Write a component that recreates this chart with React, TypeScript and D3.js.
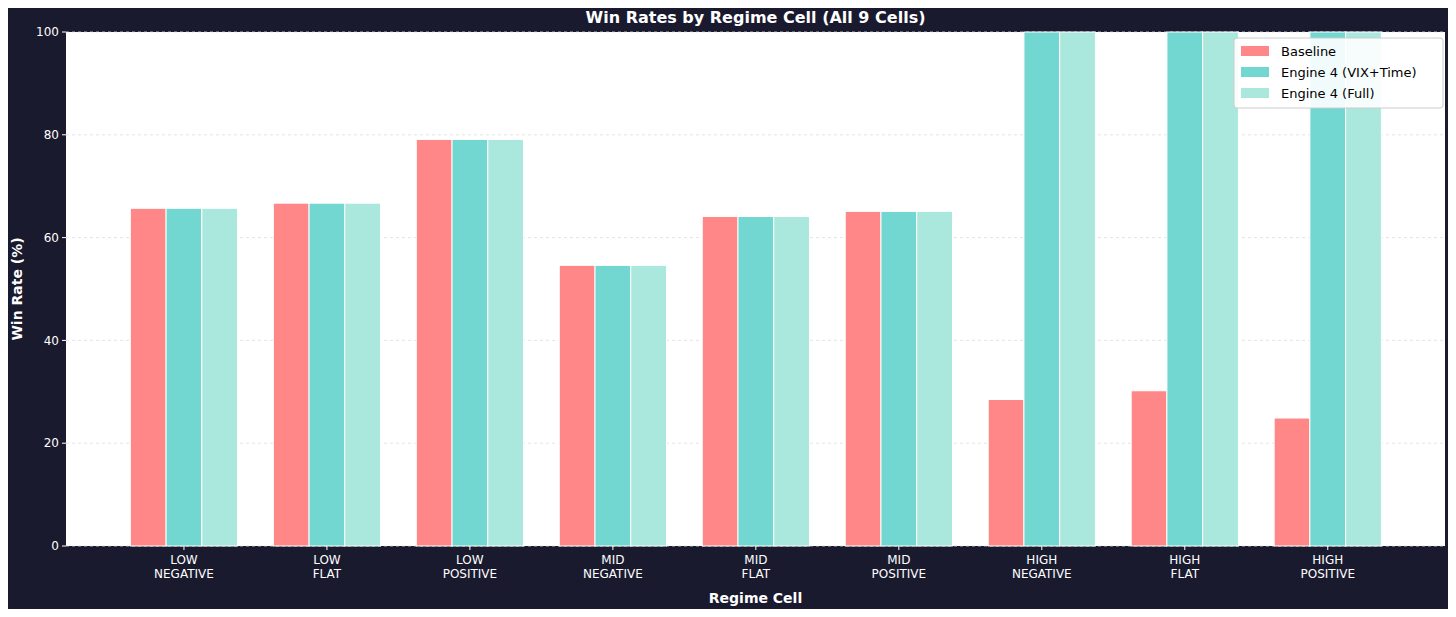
import React, { useEffect, useRef } from "react";
import * as d3 from "d3";

const categories = ["LOW\nNEGATIVE", "LOW\nFLAT", "LOW\nPOSITIVE", "MID\nNEGATIVE", "MID\nFLAT", "MID\nPOSITIVE", "HIGH\nNEGATIVE", "HIGH\nFLAT", "HIGH\nPOSITIVE"];
const baseline = [65.7, 66.7, 79.1, 54.6, 64.1, 65.1, 28.5, 30.2, 24.9];
const engineVixTime = [65.7, 66.7, 79.1, 54.6, 64.1, 65.1, 100, 100, 100];
const engineFull = [65.7, 66.7, 79.1, 54.6, 64.1, 65.1, 100, 100, 100];
const seriesNames = ["Baseline", "Engine 4 (VIX+Time)", "Engine 4 (Full)"];
const seriesColors = ["#ff8787", "#71d7d0", "#aae7dc"];
const yTicks = [0, 20, 40, 60, 80, 100];

const W = 1456, H = 617;
const M = { left: 66, right: 11, top: 32, bottom: 71 };

export default function App() {
  const ref = useRef<SVGSVGElement | null>(null);

  useEffect(() => {
    if (!ref.current) return;
    const svg = d3.select(ref.current);
    svg.selectAll("*").remove();
    const font = "DejaVu Sans, sans-serif";

    svg.append("rect").attr("width", W).attr("height", H).attr("fill", "#1a1a2e");

    const x = d3.scaleLinear().domain([-0.825, categories.length - 1 + 0.82]).range([M.left, W - M.right]);
    const y = d3.scaleLinear().domain([0, 100]).range([H - M.bottom, M.top]);
    const step = x(1) - x(0);
    const bw = step * 0.25;

    svg.append("rect").attr("x", M.left).attr("y", M.top)
      .attr("width", W - M.left - M.right).attr("height", H - M.top - M.bottom).attr("fill", "#ffffff");

    // grid
    yTicks.forEach(t => {
      svg.append("line").attr("x1", M.left).attr("x2", W - M.right)
        .attr("y1", y(t)).attr("y2", y(t))
        .attr("stroke", "#dddddd").attr("stroke-dasharray", "3,3").attr("stroke-width", 0.8);
    });

    const series = [baseline, engineVixTime, engineFull];
    series.forEach((vals, si) => {
      vals.forEach((v, i) => {
        const cx = x(i) + (si - 1) * bw;
        svg.append("rect")
          .attr("x", cx - bw / 2).attr("y", y(v))
          .attr("width", bw).attr("height", y(0) - y(v))
          .attr("fill", seriesColors[si]).attr("stroke", "#ffffff").attr("stroke-width", 1);
      });
    });

    // y axis
    yTicks.forEach(t => {
      svg.append("line").attr("x1", M.left - 4).attr("x2", M.left).attr("y1", y(t)).attr("y2", y(t)).attr("stroke", "#ffffff");
      svg.append("text").attr("x", M.left - 7).attr("y", y(t)).attr("dy", "0.35em")
        .attr("text-anchor", "end").attr("fill", "#ffffff").attr("font-family", font).attr("font-size", 12).text(t);
    });
    // x axis
    categories.forEach((c, i) => {
      svg.append("line").attr("x1", x(i)).attr("x2", x(i)).attr("y1", y(0)).attr("y2", y(0) + 4).attr("stroke", "#ffffff");
      c.split("\n").forEach((line, li) => {
        svg.append("text").attr("x", x(i)).attr("y", y(0) + 18 + li * 14)
          .attr("text-anchor", "middle").attr("fill", "#ffffff").attr("font-family", font).attr("font-size", 12).text(line);
      });
    });

    svg.append("text").attr("x", (M.left + W - M.right) / 2).attr("y", 23)
      .attr("text-anchor", "middle").attr("fill", "#ffffff").attr("font-family", font)
      .attr("font-size", 16).attr("font-weight", "bold").text("Win Rates by Regime Cell (All 9 Cells)");
    svg.append("text").attr("x", (M.left + W - M.right) / 2).attr("y", 603)
      .attr("text-anchor", "middle").attr("fill", "#ffffff").attr("font-family", font)
      .attr("font-size", 14).attr("font-weight", "bold").text("Regime Cell");
    svg.append("text").attr("transform", `translate(22,${(M.top + H - M.bottom) / 2}) rotate(-90)`)
      .attr("text-anchor", "middle").attr("fill", "#ffffff").attr("font-family", font)
      .attr("font-size", 14).attr("font-weight", "bold").text("Win Rate (%)");

    // legend
    const lg = svg.append("g").attr("transform", "translate(1234,38)");
    lg.append("rect").attr("width", 209).attr("height", 70).attr("rx", 3)
      .attr("fill", "#ffffff").attr("fill-opacity", 0.9).attr("stroke", "#cccccc");
    seriesNames.forEach((n, i) => {
      lg.append("rect").attr("x", 7).attr("y", 8 + i * 21).attr("width", 28).attr("height", 10).attr("fill", seriesColors[i]);
      lg.append("text").attr("x", 47).attr("y", 13 + i * 21).attr("dy", "0.35em")
        .attr("fill", "#000000").attr("font-family", font).attr("font-size", 13).text(n);
    });
  }, []);

  return <svg ref={ref} width={W} height={H} style={{ display: "block", margin: -8 }} />;
}
